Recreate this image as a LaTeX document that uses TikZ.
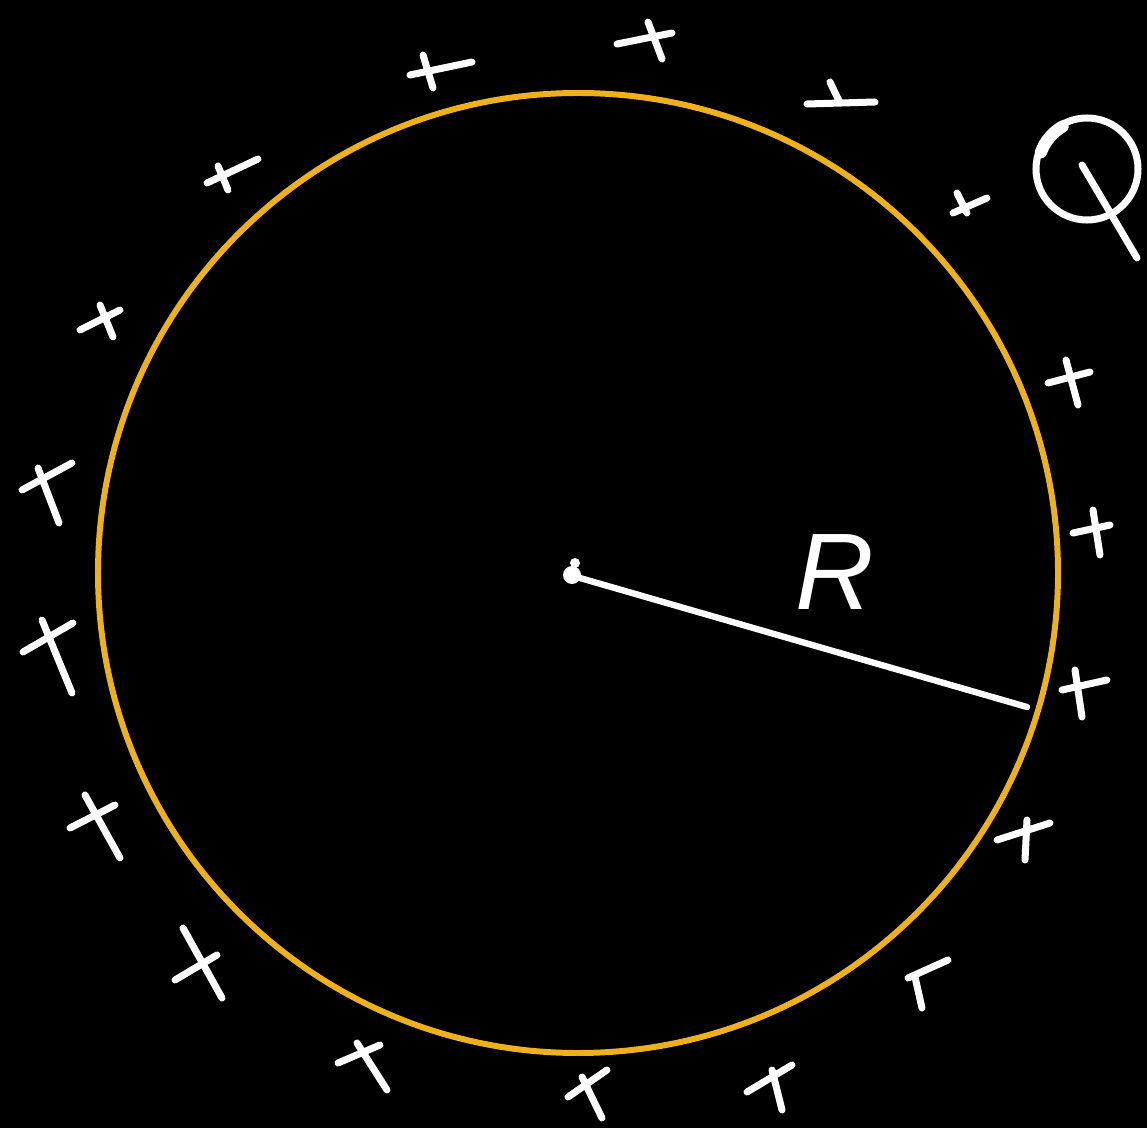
\documentclass[tikz,border=0pt]{standalone}
\usepackage{fontspec}
\setmainfont{Liberation Sans}
\definecolor{ring}{HTML}{EEB11C}
\begin{document}
\begin{tikzpicture}[x=0.02cm,y=-0.02cm,
  ink/.style={white,line width=4pt,line cap=round,line join=round},
  ringline/.style={ring,line width=3.4pt}]
\fill[black] (0,0) rectangle (1147,1128);
\useasboundingbox (0,0) rectangle (1147,1128);
% charged ring
\coordinate (O) at (578,573);
\draw[ringline] (O) circle [radius=480];
% charges
\foreach \a/\b/\c/\d/\e/\f/\g/\h in {
  410/75/472/62/423/55/433/88,
  617/44/672/33/648/22/662/59,
  807/104/875/102/830/82/840/103,
  207/183/258/159/218/166/228/190,
  953/213/987/198/957/193/967/213,
  80/330/120/310/100/305/113/337,
  1048/383/1090/372/1066/360/1078/405,
  22/490/72/463/38/468/59/523,
  1073/533/1110/525/1093/510/1100/555,
  23/652/73/623/42/620/72/693,
  1062/690/1107/680/1075/670/1082/717,
  70/828/115/805/85/795/120/858,
  997/840/1050/823/1027/820/1025/860,
  175/980/217/955/183/928/222/998,
  908/978/948/960/915/977/922/1008,
  338/1063/380/1045/357/1043/387/1090,
  568/1097/607/1070/582/1077/602/1118,
  747/1092/792/1065/772/1070/782/1110}
  {\draw[ink] (\a,\b) -- (\c,\d) (\e,\f) -- (\g,\h);}
% centre and radius
\fill[white] (572,575) circle [radius=9];
\fill[white] (575,563) circle [radius=5];
\coordinate (E) at (1027,707);
\draw[ink,line width=3.6pt] (O) ++(2,5) -- (E);
\node[white,font=\itshape\fontsize{62}{66}\selectfont] (R) at (835,572) {R};
% point Q
\coordinate (Q) at (1087,169);
\draw[ink] (Q) circle [radius=51];
\draw[white,line width=7pt,line cap=round] (Q) ++(200:49) arc[start angle=200,end angle=240,radius=49];
\draw[ink] (1082,165) -- (1137,258);
\end{tikzpicture}
\end{document}
